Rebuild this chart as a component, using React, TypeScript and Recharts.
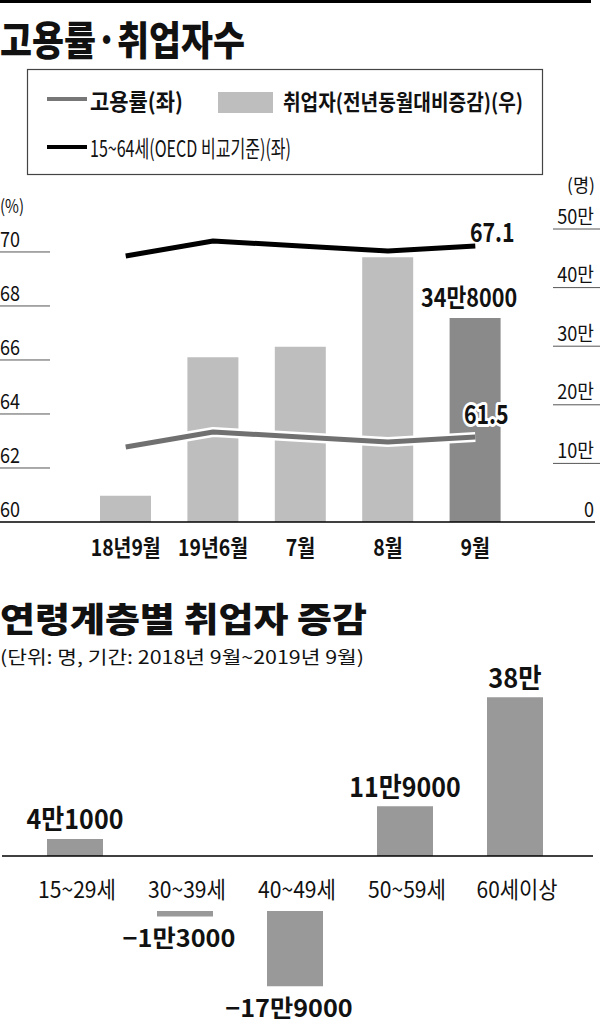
import { ComposedChart, BarChart, Bar, Line, XAxis, YAxis, Cell, LabelList } from "recharts";

// 고용률·취업자수
const months = ["18년9월", "19년6월", "7월", "8월", "9월"];
const employed = [45000, 281000, 299000, 452000, 348000];
const rate = [61.3, 61.6, 61.5, 61.4, 61.5];
const rate1564 = [66.9, 67.2, 67.1, 67.0, 67.1];
const leftTicks = [60, 62, 64, 66, 68, 70];
const rightTicks = [0, 100000, 200000, 300000, 400000, 500000];

// 연령계층별 취업자 증감
const ages = ["15~29세", "30~39세", "40~49세", "50~59세", "60세이상"];
const ageChange = [41000, -13000, -179000, 119000, 380000];

const topData = months.map((m, i) => ({ m, emp: employed[i], rate: rate[i], oecd: rate1564[i] }));
const ageData = ages.map((a, i) => ({
  a,
  pos: ageChange[i] > 0 ? ageChange[i] : null,
  neg: ageChange[i] < 0 ? ageChange[i] : null,
}));

const FONT = "'Noto Sans CJK KR', 'Noto Sans', sans-serif";

// rough width of the condensed newspaper face
function est(s: string, fs: number) {
  let t = 0;
  for (const ch of s) {
    if (/[가-힣]/.test(ch)) t += 0.84;
    else if (/[0-9]/.test(ch)) t += 0.5;
    else if (ch === "~" || ch === "−") t += 0.55;
    else if (ch === "(" || ch === ")") t += 0.3;
    else if (ch === "." || ch === ":" || ch === ",") t += 0.22;
    else if (ch === " ") t += 0.25;
    else if (ch === "%") t += 0.7;
    else if (ch === "·") t += 0.3;
    else t += 0.55;
  }
  return t * fs;
}

function man(v: number) {
  const a = Math.abs(v);
  const m = Math.floor(a / 10000);
  const r = a % 10000;
  return (v < 0 ? "−" : "") + (m ? m + "만" : "") + (r ? String(r) : "");
}

function Txt({ x, y, s, fs, w = 700, anchor = "start", len, fill = "#111", halo }: any) {
  return (
    <text
      x={x}
      y={y}
      fontSize={fs}
      fontWeight={w}
      fontFamily={FONT}
      textAnchor={anchor}
      dominantBaseline="central"
      textLength={len ?? est(s, fs)}
      lengthAdjust="spacingAndGlyphs"
      fill={fill}
      stroke={halo ? "#fff" : undefined}
      strokeWidth={halo ? 6 : undefined}
      strokeLinejoin="round"
      paintOrder="stroke"
    >
      {s}
    </text>
  );
}

const LeftTick = (p: any) => {
  const v = p.payload.value;
  const base = v === 60;
  return (
    <g>
      <line x1={0} x2={base ? 595 : 50} y1={p.y} y2={p.y} stroke={base ? "#000" : "#555"} strokeWidth={base ? 1.5 : 1} />
      <Txt x={0} y={p.y - 14} s={String(v)} fs={21} w={400} len={20} />
    </g>
  );
};

const RightTick = (p: any) => {
  const v = p.payload.value;
  return (
    <g>
      {v !== 0 && <line x1={553} x2={600} y1={p.y} y2={p.y} stroke="#555" strokeWidth={1} />}
      <Txt x={594} y={p.y - 14} s={v === 0 ? "0" : `${v / 10000}만`} fs={20} w={400} anchor="end" />
    </g>
  );
};

const MonthTick = (p: any) => <Txt x={p.x} y={546} s={p.payload.value} fs={23} anchor="middle" len={est(p.payload.value, 22)} />;
const AgeTick = (p: any) => <Txt x={p.x + 2} y={248} s={p.payload.value} fs={23} w={400} anchor="middle" len={est(p.payload.value, 23)} />;

export default function App() {
  return (
    <div style={{ position: "absolute", left: 0, top: 0, width: 600, height: 1024, background: "#fff", overflow: "hidden" }}>
      <svg width={600} height={1024} style={{ position: "absolute", left: 0, top: 0 }}>
        <rect x={0} y={0} width={591} height={3} fill="#000" />
        <Txt x={0} y={38} s="고용률·취업자수" fs={40} w={900} len={245} />
        <rect x={27.5} y={69.5} width={515} height={105} fill="none" stroke="#444" strokeWidth={1.2} />
        <line x1={47} x2={87} y1={99} y2={99} stroke="#777" strokeWidth={4} />
        <Txt x={90} y={100} s="고용률(좌)" fs={23} len={93} />
        <rect x={218} y={92} width={55} height={21} fill="#bebebe" />
        <Txt x={283} y={100} s="취업자(전년동월대비증감)(우)" fs={22} len={240} />
        <line x1={47} x2={87} y1={147} y2={147} stroke="#000" strokeWidth={4} />
        <Txt x={90} y={147} s="15~64세(OECD 비교기준)(좌)" fs={23} w={400} len={201} />
        <Txt x={0} y={205} s="(%)" fs={18} w={400} len={24} />
        <Txt x={595} y={184} s="(명)" fs={18} w={400} len={28} anchor="end" />
        <Txt x={0} y={617} s="연령계층별 취업자 증감" fs={34} w={900} len={367} />
        <Txt x={0} y={656} s="(단위: 명, 기간: 2018년 9월~2019년 9월)" fs={18} w={400} len={364} />
      </svg>

      <div style={{ position: "absolute", left: 0, top: 0 }}>
        <ComposedChart width={600} height={570} data={topData} margin={{ top: 229, right: 0, bottom: 0, left: 0 }}>
          <XAxis dataKey="m" height={48} axisLine={false} tickLine={false} tick={<MonthTick />} interval={0} />
          <YAxis yAxisId="left" width={82} domain={[60, 70.85]} ticks={leftTicks} interval={0} axisLine={false} tickLine={false} tick={<LeftTick />} />
          <YAxis yAxisId="right" orientation="right" width={81} domain={[0, 500000]} ticks={rightTicks} interval={0} axisLine={false} tickLine={false} tick={<RightTick />} />
          <YAxis yAxisId="g" hide domain={[59.8, 65.66]} allowDataOverflow />
          <YAxis yAxisId="b" hide domain={[61.58, 67.44]} allowDataOverflow />
          <Bar yAxisId="right" dataKey="emp" barSize={51} isAnimationActive={false}>
            {topData.map((d, i) => (
              <Cell key={d.m} fill={i === topData.length - 1 ? "#8a8a8a" : "#bebebe"} />
            ))}
            <LabelList
              dataKey="emp"
              content={(p: any) =>
                p.index === topData.length - 1 || p.value === employed[employed.length - 1] ? (
                  <Txt x={p.x + p.width / 2 - 6} y={p.y - 22} s={man(p.value)} fs={25} anchor="middle" />
                ) : null
              }
            />
          </Bar>
          {/* keeps the left % axis bound to a series so its ticks render */}
          <Line yAxisId="left" dataKey="rate" stroke="none" dot={false} activeDot={false} legendType="none" isAnimationActive={false} />
          <Line yAxisId="g" type="linear" dataKey="rate" stroke="#fff" strokeWidth={10} strokeLinejoin="round" dot={false} activeDot={false} isAnimationActive={false} />
          <Line yAxisId="g" type="linear" dataKey="rate" stroke="#707070" strokeWidth={5} strokeLinejoin="round" dot={false} activeDot={false} isAnimationActive={false}>
            <LabelList
              dataKey="rate"
              content={(p: any) =>
                p.index === topData.length - 1 ? <Txt x={p.x + 11} y={p.y - 25} s={String(p.value)} fs={26} anchor="middle" halo /> : null
              }
            />
          </Line>
          <Line yAxisId="b" type="linear" dataKey="oecd" stroke="#fff" strokeWidth={10} strokeLinejoin="round" dot={false} activeDot={false} isAnimationActive={false} />
          <Line yAxisId="b" type="linear" dataKey="oecd" stroke="#000" strokeWidth={5} strokeLinejoin="round" dot={false} activeDot={false} isAnimationActive={false}>
            <LabelList
              dataKey="oecd"
              content={(p: any) =>
                p.index === topData.length - 1 ? <Txt x={p.x + 17} y={p.y - 16} s={p.value.toFixed(1)} fs={26} anchor="middle" /> : null
              }
            />
          </Line>
        </ComposedChart>
      </div>

      <div style={{ position: "absolute", left: 0, top: 640 }}>
        <BarChart width={600} height={271} data={ageData} margin={{ top: 49, right: 7, bottom: 0, left: 2 }}>
          <XAxis dataKey="a" height={55} padding={{ left: 18, right: 23 }} axisLine={{ stroke: "#000", strokeWidth: 1.5 }} tickLine={false} tick={<AgeTick />} interval={0} />
          <YAxis hide domain={[0, 400000]} />
          <Bar dataKey="pos" fill="#999" barSize={56} isAnimationActive={false}>
            <LabelList
              dataKey="pos"
              content={(p: any) =>
                p.value ? <Txt x={p.x + p.width / 2} y={p.y - 21} s={man(p.value)} fs={27} anchor="middle" len={est(man(p.value), 29)} /> : null
              }
            />
          </Bar>
        </BarChart>
      </div>

      <div style={{ position: "absolute", left: 0, top: 900 }}>
        <BarChart width={600} height={124} data={ageData} margin={{ top: 11, right: 7, bottom: 29, left: 2 }}>
          <XAxis dataKey="a" orientation="top" height={0} padding={{ left: 18, right: 23 }} axisLine={{ stroke: "#000", strokeWidth: 1.5 }} tickLine={false} tick={false} />
          <YAxis hide domain={[-200000, 0]} />
          <Bar dataKey="neg" fill="#999" barSize={56} isAnimationActive={false}>
            <LabelList
              dataKey="neg"
              content={(p: any) =>
                p.value ? (
                  <Txt
                    x={p.x + p.width / 2 - 6}
                    y={Math.max(p.y, p.y + p.height) + 20}
                    s={man(p.value)}
                    fs={24}
                    anchor="middle"
                    len={est(man(p.value), 29)}
                  />
                ) : null
              }
            />
          </Bar>
        </BarChart>
      </div>
    </div>
  );
}
